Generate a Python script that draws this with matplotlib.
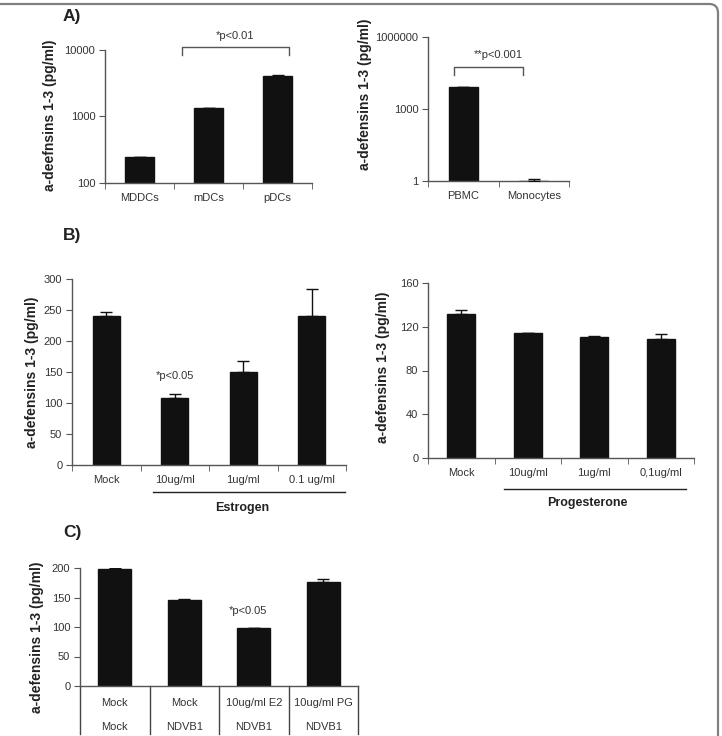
import matplotlib
matplotlib.use("Agg")
import matplotlib.pyplot as plt
from matplotlib.patches import FancyBboxPatch
import numpy as np

plt.rcParams['font.family'] = ['Liberation Sans', 'DejaVu Sans']

W, H = 722, 736

# panel A, left
a1_cats = ["MDDCs", "mDCs", "pDCs"]
a1_vals = [245, 1350, 4050]
a1_err = [5, 10, 200]

# panel A, right
a2_cats = ["PBMC", "Monocytes"]
a2_vals = [8300, 1.0]
a2_err = [100, 0.2]

# panel B, estrogen
b1_cats = ["Mock", "10ug/ml", "1ug/ml", "0.1 ug/ml"]
b1_vals = [240, 108, 150, 240]
b1_err = [6, 7, 18, 44]

# panel B, progesterone
b2_cats = ["Mock", "10ug/ml", "1ug/ml", "0,1ug/ml"]
b2_vals = [132, 114, 111, 109]
b2_err = [3, 0.5, 1, 4.5]

# panel C
c_row1 = ["Mock", "Mock", "10ug/ml E2", "10ug/ml PG"]
c_row2 = ["Mock", "NDVB1", "NDVB1", "NDVB1"]
c_vals = [198, 146, 98, 177]
c_err = [1.5, 1.5, 1, 5]

BAR = "#111111"
AX = "#555555"
TXT = "#333333"
FS = 8

fig = plt.figure(figsize=(W / 100, H / 100), dpi=100)


def px_axes(x0, y0, x1, y1):
    return fig.add_axes([x0 / W, 1 - y1 / H, (x1 - x0) / W, (y1 - y0) / H])


def style(ax, n, boundary_ticks=True):
    for s in ["top", "right"]:
        ax.spines[s].set_visible(False)
    for s in ["left", "bottom"]:
        ax.spines[s].set_color(AX)
        ax.spines[s].set_linewidth(1.0)
    ax.set_xlim(-0.5, n - 0.5)
    ax.tick_params(axis="y", direction="out", length=4, color=AX,
                   labelsize=FS, labelcolor=TXT, pad=3)
    ax.set_xticks(range(n))
    ax.tick_params(axis="x", which="major", length=0, labelsize=FS,
                   labelcolor=TXT, pad=7)
    if boundary_ticks:
        ax.set_xticks(np.arange(-0.5, n, 1.0), minor=True)
        ax.tick_params(axis="x", which="minor", direction="out", length=4,
                       color=AX)


def bars(ax, vals, err, width):
    x = np.arange(len(vals))
    ax.bar(x, vals, width=width, color=BAR, edgecolor=BAR, zorder=2)
    ax.errorbar(x, vals, yerr=[np.zeros(len(err)), err], fmt="none",
                ecolor=BAR, elinewidth=1.0, capsize=4, capthick=1.0, zorder=3)


def ylabel(x, y, s):
    fig.text(x / W, 1 - y / H, s, rotation=90, ha="center", va="center",
             fontsize=10, fontweight="bold", color="#222222")


def panel_letter(x, y, s):
    fig.text(x / W, 1 - y / H, s, ha="left", va="center", fontsize=12.5,
             fontweight="bold", color="#222222")


# frame around the figure
frame = FancyBboxPatch((-0.05, -0.05), 0.05 + 718 / W, 0.05 + 1 - 4 / H,
                       boxstyle="round,pad=0,rounding_size=0.012",
                       transform=fig.transFigure, fill=False,
                       edgecolor="#808080", linewidth=1.6)
fig.patches.append(frame)

# ---- A left
ax = px_axes(105, 50, 312, 183)
ax.set_yscale("log")
bars(ax, a1_vals, a1_err, 0.41)
ax.set_ylim(100, 10000)
ax.set_yticks([100, 1000, 10000])
ax.set_yticklabels(["100", "1000", "10000"])
ax.minorticks_off()
style(ax, 3)
ax.set_xticklabels(a1_cats)
ax.plot([0.62, 0.62, 2.17, 2.17], [8400, 11000, 11000, 8400], color=AX,
        lw=1.0, clip_on=False)
ax.text(1.38, 16500, "*p<0.01", ha="center", va="center", fontsize=FS,
        color=TXT)
ylabel(50, 115, "a-deefnsins 1-3 (pg/ml)")
panel_letter(63, 17, "A)")

# ---- A right
ax = px_axes(428, 37, 569, 181)
ax.set_yscale("log")
bars(ax, a2_vals, a2_err, 0.41)
ax.set_ylim(1, 1e6)
ax.set_yticks([1, 1000, 1e6])
ax.set_yticklabels(["1", "1000", "1000000"])
ax.minorticks_off()
style(ax, 2)
ax.set_xticklabels(a2_cats)
ax.plot([-0.13, -0.13, 0.85, 0.85], [26000, 56000, 56000, 26000], color=AX,
        lw=1.0, clip_on=False)
ax.text(0.49, 175000, "**p<0.001", ha="center", va="center", fontsize=FS,
        color=TXT)
ylabel(365, 94, "a-defensins 1-3 (pg/ml)")

# ---- B left (estrogen)
ax = px_axes(72, 279, 346, 465)
bars(ax, b1_vals, b1_err, 0.40)
ax.set_ylim(0, 300)
ax.set_yticks(range(0, 301, 50))
style(ax, 4)
ax.set_xticklabels(b1_cats)
ax.text(1.0, 143, "*p<0.05", ha="center", va="center", fontsize=FS,
        color=TXT)
ax.plot([(153 - 72) / 68.5 - 0.5, (345 - 72) / 68.5 - 0.5],
        [-(492 - 465) / 186 * 300] * 2, color="#222222", lw=1.0,
        clip_on=False)
ax.text((242 - 72) / 68.5 - 0.5, -(508 - 465) / 186 * 300, "Estrogen",
        ha="center", va="center", fontsize=9, fontweight="bold",
        color="#222222")
ylabel(32, 372, "a-defensins 1-3 (pg/ml)")
panel_letter(63, 235, "B)")

# ---- B right (progesterone)
ax = px_axes(428, 283, 694, 458)
bars(ax, b2_vals, b2_err, 0.42)
ax.set_ylim(0, 160)
ax.set_yticks(range(0, 161, 40))
style(ax, 4)
ax.set_xticklabels(b2_cats)
ax.plot([(504 - 428) / 66.5 - 0.5, (686 - 428) / 66.5 - 0.5],
        [-(489 - 458) / 175 * 160] * 2, color="#222222", lw=1.0,
        clip_on=False)
ax.text((587 - 428) / 66.5 - 0.5, -(503 - 458) / 175 * 160, "Progesterone",
        ha="center", va="center", fontsize=9, fontweight="bold",
        color="#222222")
ylabel(383, 367, "a-defensins 1-3 (pg/ml)")

# ---- C
ax = px_axes(80, 568, 358, 686)
bars(ax, c_vals, c_err, 0.47)
ax.set_ylim(0, 200)
ax.set_yticks(range(0, 201, 50))
style(ax, 4, boundary_ticks=False)
ax.set_xticks([])
tr = ax.get_xaxis_transform()
for b in np.arange(-0.5, 4, 1.0):
    ax.plot([b, b], [0, -(734 - 686) / 118], color="#444444", lw=1.0,
            transform=tr, clip_on=False)
for i in range(4):
    ax.text(i, -(703 - 686) / 118, c_row1[i], ha="center", va="center",
            fontsize=FS, color=TXT, transform=tr)
    ax.text(i, -(727 - 686) / 118, c_row2[i], ha="center", va="center",
            fontsize=FS, color=TXT, transform=tr)
ax.text((248 - 80) / 69.5 - 0.5, 127, "*p<0.05", ha="center", va="center",
        fontsize=FS, color=TXT)
ylabel(37, 637, "a-defensins 1-3 (pg/ml)")
panel_letter(63, 533, "C)")

fig.savefig("out.png", dpi=100)
